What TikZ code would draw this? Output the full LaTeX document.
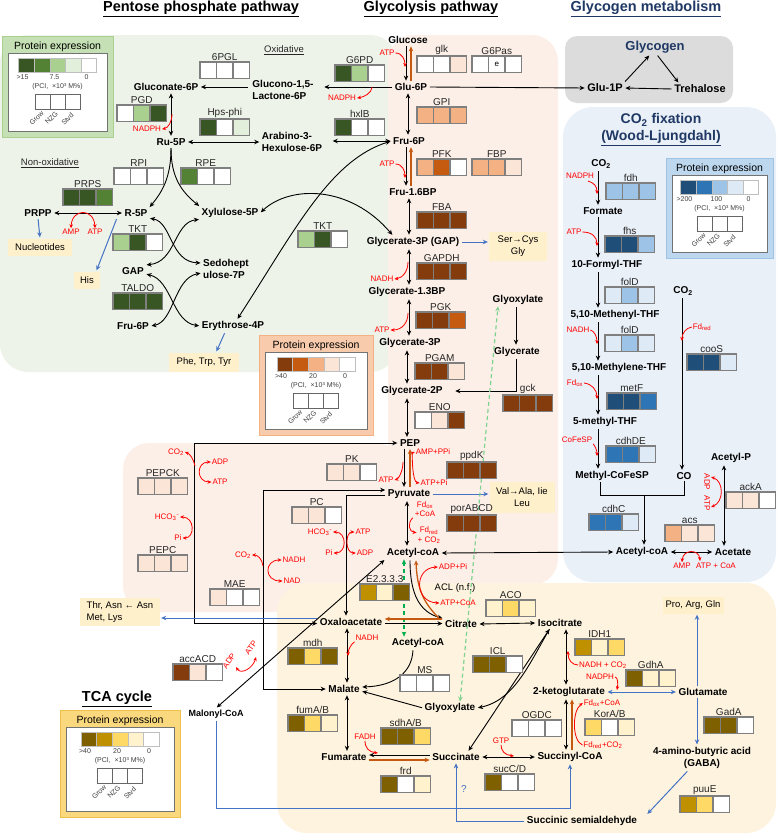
\documentclass[tikz,border=0pt]{standalone}
\usepackage{fontspec}
\setmainfont{Liberation Sans}
\usetikzlibrary{arrows.meta,calc}
\definecolor{g1}{HTML}{375623}\definecolor{g2}{HTML}{548235}\definecolor{g3}{HTML}{A9D08E}\definecolor{g4}{HTML}{E2EFDA}
\definecolor{b1}{HTML}{843C0C}\definecolor{b2}{HTML}{C55A11}\definecolor{b3}{HTML}{F4B183}\definecolor{b4}{HTML}{FBE5D6}
\definecolor{y1}{HTML}{7F6000}\definecolor{y2}{HTML}{BF9000}\definecolor{y3}{HTML}{FFD966}\definecolor{y4}{HTML}{FFF2CC}
\definecolor{u1}{HTML}{1F4E79}\definecolor{u2}{HTML}{2E75B6}\definecolor{u3}{HTML}{9DC3E6}\definecolor{u4}{HTML}{DEEBF7}
\definecolor{bggreen}{HTML}{EEF3E9}\definecolor{bgpeach}{HTML}{FCEFE8}\definecolor{bggray}{HTML}{DCDCDC}
\definecolor{bgblue}{HTML}{EAF0F8}\definecolor{bgyellow}{HTML}{FDF3DE}\definecolor{aabox}{HTML}{FFF0CC}
\definecolor{navy}{HTML}{1F3864}\definecolor{orgarr}{HTML}{C65911}\definecolor{bluarr}{HTML}{4472C4}
\definecolor{cellgray}{HTML}{7F7F7F}\definecolor{gdk}{HTML}{00B050}\definecolor{glt}{HTML}{7FD28F}
\definecolor{lgGfill}{HTML}{C5E0B4}\definecolor{lgGbord}{HTML}{A9D08E}
\definecolor{lgBfill}{HTML}{F8CBAD}\definecolor{lgBbord}{HTML}{F4B183}
\definecolor{lgUfill}{HTML}{BDD7EE}\definecolor{lgUbord}{HTML}{9DC3E6}
\definecolor{lgYfill}{HTML}{FAD97E}\definecolor{lgYbord}{HTML}{EFC050}

\newcommand\enz[7]{%
  \node[cell,fill=#5,anchor=north west] (#1-1) at (#2,#3) {};
  \node[cell,fill=#6,anchor=west] (#1-2) at (#1-1.east) {};
  \node[cell,fill=#7,anchor=west] (#1-3) at (#1-2.east) {};
  \node[enzl,anchor=south] (#1-l) at ([yshift=0.5pt]#1-2.north) {#4};}

\newcommand\pelegend[8]{%
\begin{scope}[shift={(#2,#3)}]
\pgfmathsetmacro\lgcx{#4/2}\pgfmathsetmacro\lgiw{#4-12}\pgfmathsetmacro\lgih{#5-23}
\node[draw=#8,fill=#7,line width=1.3pt,minimum width=#4pt,minimum height=#5pt,anchor=north west,inner sep=0pt] (#1-o) at (0,0) {};
\node[font=\fontsize{10.5}{12}\selectfont,inner sep=0pt] (#1-t) at (\lgcx,10.5) {Protein expression};
\node[draw=black!55,fill=white,line width=0.9pt,minimum width=\lgiw pt,minimum height=\lgih pt,anchor=north west,inner sep=0pt] (#1-i) at (6,17) {};
\foreach \i/\c in {1/#61,2/#62,3/#63,4/#64,5/white}{
  \node[draw=black!25,fill=\c,line width=0.4pt,minimum width=15.6pt,minimum height=14pt,inner sep=0pt] (#1-b\i) at (\lgcx-39+15.6*\i-7.8,29) {};}
\node[lgs] (#1-hi) at (\lgcx-35,41.5) {\lghi};
\node[lgs] (#1-mid) at (\lgcx-3,41.5) {\lgmid};
\node[lgs] (#1-z) at (\lgcx+29,41.5) {0};
\node[lgs] (#1-u) at (\lgcx,51) {(PCI,\ \ ×10³ M\%)};
\foreach \i in {1,2,3}{
  \node[draw=black!60,line width=0.9pt,fill=white,minimum width=15pt,minimum height=15pt,inner sep=0pt] (#1-c\i) at (\lgcx-30+15*\i,65.5) {};}
\node[lgs,rotate=45] (#1-r1) at (\lgcx-21,82) {Grow};
\node[lgs,rotate=45] (#1-r2) at (\lgcx-6,82) {NZG};
\node[lgs,rotate=45] (#1-r3) at (\lgcx+10,83) {Stvd};
\end{scope}}

\begin{document}
\begin{tikzpicture}[x=1pt,y=-1pt,
  met/.style={font=\bfseries\fontsize{10}{12.5}\selectfont,inner sep=1.5pt,align=center},
  metl/.style={met,align=left},
  enzl/.style={font=\fontsize{10}{12}\selectfont,text=black!85,inner sep=1pt},
  cof/.style={font=\fontsize{8}{9.5}\selectfont,text=red,inner sep=0.8pt,align=center},
  aa/.style={fill=aabox,font=\fontsize{9.5}{11.5}\selectfont,inner sep=0pt,align=center},
  cell/.style={draw=cellgray,line width=1.1pt,minimum width=16.5pt,minimum height=16.5pt,inner sep=0pt,outer sep=0pt},
  lgs/.style={font=\fontsize{7}{8}\selectfont,text=black!75,inner sep=0pt},
  ttl/.style={font=\bfseries\fontsize{14.5}{17}\selectfont,inner sep=1pt},
  ttlb/.style={font=\bfseries\fontsize{14}{16}\selectfont,text=navy,inner sep=1pt},
  plain/.style={draw=black,line width=0.9pt},
  blk/.style={plain,shorten >=1pt,shorten <=1pt,-{Stealth[length=5pt,width=4.5pt]}},
  blk2/.style={plain,shorten >=1pt,shorten <=1pt,{Stealth[length=5pt,width=4.5pt]}-{Stealth[length=5pt,width=4.5pt]}},
  org/.style={draw=orgarr,line width=1.3pt,shorten >=1pt,shorten <=1pt,-{Stealth[length=5pt,width=4.5pt]}},
  blu/.style={draw=bluarr,line width=1pt,shorten >=1pt,shorten <=1pt,-{Stealth[length=5pt,width=4.5pt]}},
  blu2/.style={draw=bluarr,line width=1pt,shorten >=1pt,shorten <=1pt,{Stealth[length=5pt,width=4.5pt]}-{Stealth[length=5pt,width=4.5pt]}},
  red1/.style={draw=red,line width=0.8pt,-{Stealth[length=4pt,width=3.5pt]}},
  red2/.style={draw=red,line width=0.8pt,{Stealth[length=4pt,width=3.5pt]}-{Stealth[length=4pt,width=3.5pt]}},
  gdsh/.style={draw=gdk,line width=1.2pt,dash pattern=on 4pt off 3pt,{Stealth[length=5pt,width=4.5pt]}-{Stealth[length=5pt,width=4.5pt]}},
  lgdsh/.style={draw=glt,line width=1.2pt,dash pattern=on 4pt off 3pt,{Stealth[length=5pt,width=4.5pt]}-{Stealth[length=5pt,width=4.5pt]}}]
\useasboundingbox (0,0) rectangle (778,835);

% ---------- backgrounds
\fill[bggreen,rounded corners=28pt] (0,35) rectangle (398,372);
\fill[bgpeach,rounded corners=26pt] (388,35) rectangle (558,585);
\fill[bgpeach,rounded corners=26pt] (123,443) rectangle (402,612);
\fill[bgyellow,rounded corners=30pt] (277,583) rectangle (776,833);
\fill[bggray,rounded corners=12pt] (565,36) rectangle (733,103);
\fill[bgblue,rounded corners=30pt] (563,107) rectangle (776,582);

% ---------- titles
\node[ttl] (tPPP) at (201,9) {\underline{Pentose phosphate pathway}};
\node[ttl] (tGly) at (431,9) {\underline{Glycolysis pathway}};
\node[ttl,text=navy] (tGlg) at (646,9) {\underline{Glycogen metabolism}};
\node[ttlb] (tCO2) at (661,120) {CO\textsubscript{2} fixation};
\node[ttlb] (tWL) at (661,138) {\underline{(Wood-Ljungdahl)}};
\node[ttl] (tTCA) at (117,699) {\underline{TCA cycle}};
\node[font=\fontsize{9.5}{11}\selectfont,text=black!85] (tOx) at (284,50) {\underline{Oxidative}};
\node[font=\fontsize{9.5}{11}\selectfont,text=black!85] (tNox) at (50,163) {\underline{Non-oxidative}};

% ---------- legends
\def\lghi{>15}\def\lgmid{7.5}\pelegend{lgG}{2}{36}{111}{101}{g}{lgGfill}{lgGbord}
\def\lghi{>40}\def\lgmid{20}\pelegend{lgB}{259}{335}{114}{100}{b}{lgBfill}{lgBbord}
\def\lghi{>200}\def\lgmid{100}\pelegend{lgU}{666}{158}{107}{100}{u}{lgUfill}{lgUbord}
\def\lghi{>40}\def\lgmid{20}\pelegend{lgY}{60}{710}{120}{107}{y}{lgYfill}{lgYbord}

% ---------- metabolites: PPP
\node[met] (Gluc6P) at (166,87) {Gluconate-6P};
\node[metl] (GlcLac) at (283,90) {Glucono-1,5-\\Lactone-6P};
\node[met] (Ru5P) at (171,142) {Ru-5P};
\node[metl] (Arab) at (292,142) {Arabino-3-\\Hexulose-6P};
\node[met] (R5P) at (136,213) {R-5P};
\node[met] (PRPP) at (38,213) {PRPP};
\node[met] (Xyl5P) at (230,213) {Xylulose-5P};
\node[met] (GAPp) at (133,271) {GAP};
\node[metl] (Sedo) at (226,269) {Sedohept\\ulose-7P};
\node[met] (F6Pp) at (133,326) {Fru-6P};
\node[met] (E4P) at (233,326) {Erythrose-4P};
% glycolysis
\node[met] (Glucose) at (408,40) {Glucose};
\node[met] (Glu6P) at (411,87) {Glu-6P};
\node[met] (Fru6P) at (409,141) {Fru-6P};
\node[met] (F16BP) at (413,192) {Fru-1.6BP};
\node[met] (GAP) at (413,242) {Glycerate-3P (GAP)};
\node[met] (G13BP) at (407,292) {Glycerate-1.3BP};
\node[met] (G3P) at (410,343) {Glycerate-3P};
\node[met] (G2P) at (412,391) {Glycerate-2P};
\node[met] (GlyoxU) at (518,300) {Glyoxylate};
\node[met] (Glycerate) at (517,352) {Glycerate};
\node[met] (PEP) at (410,443) {PEP};
\node[met] (Pyr) at (409,494) {Pyruvate};
\node[met] (AcCoA) at (413,553) {Acetyl-coA};
% TCA
\node[met] (OAA) at (351,622) {Oxaloacetate};
\node[met] (Cit) at (461,624) {Citrate};
\node[met] (Icit) at (560,623) {Isocitrate};
\node[met] (AcCoAT) at (418,643) {Acetyl-coA};
\node[met] (Mal) at (344,689) {Malate};
\node[met] (GlyoxT) at (450,708) {Glyoxylate};
\node[met] (Fum) at (344,757) {Fumarate};
\node[met] (Succ) at (456,757) {Succinate};
\node[met] (SucCoA) at (570,757) {Succinyl-CoA};
\node[met] (AKG) at (569,692) {2-ketoglutarate};
\node[met] (Glu) at (703,692) {Glutamate};
\node[met] (GABA) at (702,758) {4-amino-butyric acid\\(GABA)};
\node[met] (SSA) at (582,821) {Succinic semialdehyde};
\node[met,font=\bfseries\fontsize{9}{11}\selectfont] (Malonyl) at (216,714) {Malonyl-CoA};
% glycogen
\node[met,font=\bfseries\fontsize{13}{15}\selectfont,text=navy] (Glycogen) at (655,47) {Glycogen};
\node[met,font=\bfseries\fontsize{11}{13}\selectfont] (Glu1P) at (605,88) {Glu-1P};
\node[met,font=\bfseries\fontsize{11}{13}\selectfont] (Treh) at (700,89) {Trehalose};
% CO2 fixation
\node[met] (CO2a) at (601,164) {CO\textsubscript{2}};
\node[met] (Formate) at (603,211) {Formate};
\node[met] (FTHF) at (607,265) {10-Formyl-THF};
\node[met] (Methenyl) at (615,315) {5,10-Methenyl-THF};
\node[met] (Methylene) at (619,368) {5,10-Methylene-THF};
\node[met] (MTHF) at (605,422) {5-methyl-THF};
\node[met] (MeCo) at (612,476) {Methyl-CoFeSP};
\node[met] (CO) at (684,476) {CO};
\node[met] (CO2b) at (683,291) {CO\textsubscript{2}};
\node[met] (AcP) at (731,458) {Acetyl-P};
\node[met] (AcCoAR) at (642,552) {Acetyl-coA};
\node[met] (Acetate) at (733,552) {Acetate};

% ---------- amino-acid boxes
\node[aa,minimum width=64pt,minimum height=17pt] (Nucl) at (40,247) {Nucleotides};
\node[aa,minimum width=26pt,minimum height=17pt] (His) at (87,280) {His};
\node[aa,minimum width=70pt,minimum height=19pt] (Phe) at (204,362) {Phe, Trp, Tyr};
\node[aa,minimum width=58pt,minimum height=29pt] (Ser) at (518,246) {Ser→Cys\\Gly};
\node[aa,minimum width=65pt,minimum height=31pt] (Val) at (522,497) {Val→Ala, Iie\\Leu};
\node[aa,minimum width=80pt,minimum height=28pt,align=left] (Thr) at (120,612) {Thr, Asn ← Asn\\Met, Lys};
\node[aa,minimum width=61pt,minimum height=17pt] (Pro) at (693,605) {Pro, Arg, Gln};

% ---------- column coordinates
\coordinate (cA) at (406,0); \coordinate (cB) at (411,0); \coordinate (cC) at (408,0);
\coordinate (cD) at (409,0); \coordinate (cE) at (407,0); \coordinate (cF) at (404,0);
\coordinate (cG) at (410,0); \coordinate (xgl) at (516,0); \coordinate (xw) at (598,0);
\coordinate (xco) at (682,0); \coordinate (xac) at (724,0); \coordinate (xm) at (347,0);
\coordinate (xk) at (566,0); \coordinate (xko) at (572,0); \coordinate (xglu) at (697,0);
\coordinate (xgd) at (404,0);

% ---------- PPP connectors
\draw[blk] ([xshift=-2pt]GlcLac.west |- Gluc6P.east) -- (Gluc6P.east);
\draw[blk] (Glu6P.west) -- ([xshift=8pt]GlcLac.east |- Glu6P.west);
\draw[blk2] (Ru5P.north |- Gluc6P.south) -- (Ru5P.north);
\draw[blk2] (Ru5P.east) -- (Arab.west |- Ru5P.east);
\draw[blk2] ([xshift=8pt]Arab.east |- Fru6P.west) -- (Fru6P.west);
\draw[blk] (Ru5P.south) .. controls (171,178) and (162,192) .. (R5P.north east);
\draw[blk] (Ru5P.south) .. controls (171,178) and (182,192) .. (Xyl5P.north west);
\draw[blk2] (PRPP.east) -- (R5P.west);
\draw[blk2] (R5P.south east) .. controls (172,222) and (170,262) .. ([yshift=6pt]Sedo.west);
\draw[blk2] (Xyl5P.south west) .. controls (174,222) and (176,262) .. ([yshift=6pt]GAPp.east);
\draw[blk2] ([yshift=-3pt]GAPp.east) .. controls (172,280) and (172,322) .. (E4P.west);
\draw[blk2] ([yshift=-4pt]Sedo.west) .. controls (174,278) and (174,322) .. (F6Pp.east);
\draw[blk2] ([xshift=4pt]E4P.north) .. controls (295,230) and (330,160) .. (Fru6P.west);
\draw[blk2] (Xyl5P.east) .. controls (290,185) and (350,185) .. ([xshift=-20pt]GAP.north);
\draw[blu] (PRPP.south) -- (Nucl.north);
\draw[blu] ([xshift=-6pt]R5P.south west) -- ([xshift=-4pt]His.north east);
\draw[blu] ([xshift=-8pt]E4P.south) -- ([xshift=12pt]Phe.north);

% ---------- glycolysis connectors
\draw[blk] (Glucose.south -| cA) -- (Glu6P.north -| cA);
\draw[org] (Glu6P.north -| cB) -- (Glucose.south -| cB);
\draw[blk2] (Glu6P.south -| cC) -- (Fru6P.north -| cC);
\draw[blk] (Fru6P.south -| cA) -- (F16BP.north -| cA);
\draw[org] (F16BP.north -| cB) -- (Fru6P.south -| cB);
\draw[blk2] (F16BP.south -| cD) -- (GAP.north -| cD);
\draw[blk2] (GAP.south -| cD) -- (G13BP.north -| cD);
\draw[blk2] (G13BP.south -| cD) -- (G3P.north -| cD);
\draw[blk2] (G3P.south -| cE) -- (G2P.north -| cE);
\draw[blk2] (G2P.south -| cE) -- (PEP.north -| cE);
\draw[blk] (PEP.south -| cF) -- (Pyr.north -| cF);
\draw[org] (Pyr.north -| cG) -- (PEP.south -| cG);
\draw[blk2] (Pyr.south -| cE) -- (AcCoA.north -| cE);
\draw[blk] (Glu6P.east) -- (Glu1P.west);
\draw[blk] (Glu1P.north east) -- ([xshift=-5pt]Glycogen.south);
\draw[blk] ([xshift=2pt]Glycogen.south) -- ([xshift=-21pt]Treh.north);
\draw[blk] (Treh.west) -- (Glu1P.east);
\draw[blk] (GlyoxU.south -| xgl) -- (Glycerate.north -| xgl);
\draw[blk] (Glycerate.south -| xgl) |- ([xshift=10pt]G2P.east);
\draw[blu] (GAP.east) -- (Ser.west |- GAP.east);
\draw[blu] (Pyr.east) -- (Val.west |- Pyr.east);
\coordinate (cPEPk) at (194,443);
\draw[blk2] ([yshift=-1.5pt]OAA.west) -| (cPEPk) -- (PEP.west);
\coordinate (cMAE) at (263,490);
\draw[blk2] (Mal.west) -| (cMAE) -- ([yshift=4pt]Pyr.west);
\draw[blk] ([yshift=-1pt]Pyr.west) -| ([xshift=-5pt]OAA.north);
\draw[blk2] (Malonyl.north) -- (AcCoA.south west);
\draw[blu] ([yshift=4pt]OAA.west) -- ([yshift=4pt]OAA.west -| Thr.east);
\draw[blk2] (AcCoA.east) -- (AcCoAR.west);
\draw[blk] ([xshift=-3pt]AcCoA.south) .. controls (410,595) and (420,612) .. (Cit.north west);
\draw[org] ([xshift=-4pt]Cit.north west) .. controls (426,605) and (417,592) .. ([xshift=3pt]AcCoA.south);
\draw[gdsh] (AcCoA.south -| xgd) -- (AcCoAT.north -| xgd);
\draw[lgdsh] ([xshift=10pt]GlyoxT.north) -- ([xshift=-20pt]GlyoxU.south);

% ---------- CO2 fixation connectors
\draw[blk] (CO2a.south -| xw) -- (Formate.north -| xw);
\draw[blk] (Formate.south -| xw) -- (FTHF.north -| xw);
\draw[blk] (FTHF.south -| xw) -- (Methenyl.north -| xw);
\draw[blk] (Methenyl.south -| xw) -- (Methylene.north -| xw);
\draw[blk] (Methylene.south -| xw) -- (MTHF.north -| xw);
\draw[blk] (MTHF.south -| xw) -- (MeCo.north -| xw);
\draw[blk] (CO2b.south -| xco) -- (CO.north -| xco);
\coordinate (j1) at (600,495); \coordinate (j2) at (684,495); \coordinate (j3) at (644,495);
\draw[plain] (MeCo.south -| j1) -- (j1) -- (j2) -- (CO.south -| j2);
\draw[blk] (j3) -- (AcCoAR.north -| j3);
\draw[blk2] (AcCoAR.east) -- (Acetate.west);
\draw[blk2] (AcP.south -| xac) -- (Acetate.north -| xac);

% ---------- TCA connectors
\draw[blk] ([yshift=-1.5pt]OAA.east) -- ([yshift=-1.5pt]OAA.east -| Cit.west);
\draw[org] ([yshift=5pt]Cit.west) -- ([yshift=5pt]Cit.west -| OAA.east);
\draw[blk2] (OAA.south -| xm) -- (Mal.north -| xm);
\draw[blk2] (Mal.south -| xm) -- (Fum.north -| xm);
\draw[blk] ([yshift=2pt]Succ.west) -- ([yshift=2pt]Succ.west -| Fum.east);
\draw[org] ([yshift=-3pt]Fum.east) -- ([yshift=-3pt]Fum.east -| Succ.west);
\draw[blk2] (SucCoA.west) -- (Succ.east);
\draw[blk2] (Icit.south -| xk) -- (AKG.north -| xk);
\draw[blk2] (AKG.south -| xk) -- (SucCoA.north -| xk);
\draw[org] (SucCoA.north -| xko) -- (AKG.south -| xko);
\draw[blk2] (Cit.east) -- (Icit.west);
\draw[blk] ([xshift=-10pt]Icit.south) .. controls (530,662) and (515,700) .. (GlyoxT.east);
\draw[blk2] ([xshift=12pt]Succ.north) -- ([xshift=-10pt]Icit.south);
\draw[blk] (GlyoxT.west) -- ([yshift=-2pt]Mal.east);
\draw[blk] ([xshift=-5pt]AcCoAT.south) .. controls (412,672) and (395,686) .. ([yshift=2pt]Mal.east);
\draw[blu2] (AKG.east) -- (Glu.west);
\draw[blu] (Glu.north -| xglu) -- (Pro.south -| xglu);
\draw[blu] (Glu.south -| xglu) -- (GABA.north -| xglu);
\draw[blu] ([xshift=-14pt]GABA.south) -- ([xshift=8pt]SSA.north east);
\draw[blu] (SSA.west) -| (Succ.south);
\node[font=\fontsize{10}{12}\selectfont,text=bluarr] (qm) at (464,789) {?};
\coordinate (cSA) at (400,808);
\draw[blu] (Malonyl.south) |- (cSA) -| (SucCoA.south);

% ---------- cofactors
\node[cof] (nadph1) at (147,129) {NADPH};
\draw[red1] (172,114) .. controls (172,122) and (168,128) .. (nadph1.east);
\node[cof] (nadph2) at (342,98) {NADPH};
\draw[red1] (372,87) .. controls (372,93) and (364,97) .. (nadph2.east);
\node[cof] (amp1) at (71,232) {AMP};
\node[cof] (atp1) at (95,232) {ATP};
\draw[red2] (amp1.north) .. controls (72,208) and (94,208) .. (atp1.north);
\node[cof] (atpglk) at (387,53) {ATP};
\draw[red1] (atpglk.east) .. controls +(7,0) and +(0,-7) .. (405,67);
\node[cof] (atppfk) at (387,164) {ATP};
\draw[red1] (atppfk.east) .. controls +(7,0) and +(0,-7) .. (405,178);
\node[cof] (nadhg) at (382,279) {NADH};
\draw[red1] (408,262) .. controls (408,272) and (402,278) .. (nadhg.east);
\node[cof] (atppgk) at (382,330) {ATP};
\draw[red1] (408,313) .. controls (408,323) and (402,330) .. (atppgk.east);
\node[cof] (atppk) at (386,480) {ATP};
\draw[red1] (403,462) .. controls (403,472) and (398,479) .. (atppk.east);
\node[cof] (ampppi) at (433,452) {AMP+PPi};
\node[cof] (atppi) at (434,483) {ATP+Pi};
\draw[red2] (atppi.west) .. controls (412,482) and (412,453) .. (ampppi.west);
\node[cof] (fdox1) at (425,509) {Fd\textsubscript{ox}\\+CoA};
\node[cof] (fdred1) at (429,535.5) {Fd\textsubscript{red}\\+ CO\textsubscript{2}};
\draw[red1] ([xshift=-1pt]fdox1.south west) .. controls (407,523) and (409,532) .. ([yshift=3pt]fdred1.west);
\node[cof] (hcopc) at (320,532) {HCO\textsubscript{3}\textsuperscript{-}};
\node[cof] (pipc) at (329,553) {Pi};
\node[cof] (atppc) at (363,532) {ATP};
\node[cof] (adppc) at (365,553) {ADP};
\draw[red2] (hcopc.east) .. controls (347,532) and (347,553) .. (pipc.east);
\draw[red2] (atppc.west) .. controls (345,532) and (345,553) .. (adppc.west);
\node[cof] (co2pk) at (176,452) {CO\textsubscript{2}};
\node[cof] (adppk) at (220,462) {ADP};
\node[cof] (atppk2) at (220,482) {ATP};
\draw[red1] (195,466) .. controls (193,458) and (190,454) .. (co2pk.east);
\draw[red2] (adppk.west) .. controls (196,462) and (196,482) .. (atppk2.west);
\node[cof] (hcopepc) at (167,517) {HCO\textsubscript{3}\textsuperscript{-}};
\node[cof] (pipepc) at (178,538) {Pi};
\draw[red2] (hcopepc.east) .. controls (195,517) and (195,538) .. (pipepc.east);
\node[cof] (co2mae) at (243,555) {CO\textsubscript{2}};
\node[cof] (nadhmae) at (294,560) {NADH};
\node[cof] (nadmae) at (292,581) {NAD};
\draw[red1] (263,566) .. controls (262,559) and (258,555) .. (co2mae.east);
\draw[red2] (nadhmae.west) .. controls (264,560) and (264,581) .. (nadmae.west);
\node[cof] (adpacl) at (453,567) {ADP+Pi};
\node[cof] (atpacl) at (458,603) {ATP+CoA};
\node[font=\fontsize{9.5}{11}\selectfont,inner sep=1pt] (acl) at (455,588) {ACL (n.f.)};
\draw[red2] (adpacl.west) .. controls (414,568) and (414,602) .. (atpacl.west);
\node[cof] (nadhmdh) at (367,638) {NADH};
\draw[red1] (nadhmdh.south west) .. controls (351,644) and (348,650) .. (348,656);
\node[cof] (fadh) at (365,737) {FADH};
\draw[red1] (fadh.south) .. controls (365,748) and (369,752) .. (378,753);
\node[cof] (gtp) at (501,741) {GTP};
\draw[red1] (gtp.south) .. controls (501,751) and (505,755) .. (514,756);
\node[cof] (nadhidh) at (603,665) {NADH + CO\textsubscript{2}};
\draw[red1] (nadhidh.west) .. controls (572,665) and (568,660) .. (568,651);
\node[cof] (nadphg) at (600,677) {NADPH};
\draw[red1] (nadphg.east) .. controls (618,677) and (618,684) .. (617,690);
\node[cof] (fdoxk) at (602,703) {Fd\textsubscript{ox}+CoA};
\node[cof] (fdredk) at (603,745) {Fd\textsubscript{red}+CO\textsubscript{2}};
\draw[red1] (fdredk.west) .. controls (572,741) and (572,711) .. (fdoxk.west);
\node[cof] (nadphf) at (580,176) {NADPH};
\draw[red1] (588,181) .. controls (594,183) and (597,186) .. (597,194);
\node[cof] (atpfhs) at (574,232) {ATP};
\draw[red1] (atpfhs.east) .. controls (592,232) and (597,237) .. (597,246);
\node[cof] (nadhfd) at (578,330) {NADH};
\draw[red1] (nadhfd.east) .. controls (594,331) and (597,336) .. (597,344);
\node[cof] (fdoxm) at (575,383) {Fd\textsubscript{ox}};
\draw[red1] (fdoxm.east) .. controls (592,384) and (597,390) .. (597,399);
\node[cof] (cofesp) at (577,440) {CoFeSP};
\draw[red1] (cofesp.south east) .. controls (595,446) and (597,450) .. (597,456);
\node[cof] (fdredc) at (702,327) {Fd\textsubscript{red}};
\draw[red1] (fdredc.west) .. controls (686,328) and (682,333) .. (682,341);
\node[cof,rotate=-90] (adpack) at (707,482) {ADP};
\node[cof,rotate=-90] (atpack) at (707,503) {ATP};
\draw[red2] (711,477) .. controls (724,481) and (724,502) .. (711,507);
\node[cof] (ampacs) at (682,566) {AMP};
\node[cof] (atpacs) at (716,566) {ATP + CoA};
\draw[red2] (ampacs.north) .. controls (683,549) and (699,549) .. (700,561);
\node[cof,rotate=55] (adpacc) at (229,661) {ADP};
\node[cof,rotate=55] (atpacc) at (251,648) {ATP};
\draw[red2] (236,667) .. controls (241,675) and (253,668) .. (256,657);

% ---------- enzyme boxes
\enz{PGL}{200}{62}{6PGL}{white}{white}{white}
\enz{PGD}{117}{105}{PGD}{white}{g3}{g1}
\enz{Hps}{200}{119}{Hps-phi}{g1}{white}{g4}
\enz{RPI}{114}{168}{RPI}{white}{white}{white}
\enz{RPE}{181}{168}{RPE}{g2}{white}{white}
\enz{PRPS}{63}{189}{PRPS}{g1}{g1}{g2}
\enz{G6PD}{335}{65}{G6PD}{g1}{g3}{white}
\enz{hxlB}{335}{119}{hxlB}{g1}{white}{white}
\enz{TKTa}{113}{234}{TKT}{g3}{g1}{white}
\enz{TALDO}{113}{293}{TALDO}{g1}{g1}{g1}
\enz{TKTb}{298}{231}{TKT}{g3}{g1}{white}
\enz{glk}{417}{56}{glk}{white}{white}{b4}
\enz{G6Pas}{472}{56}{G6Pas}{white}{white}{white}
\node[font=\fontsize{8}{9}\selectfont] (G6Pas-e) at (G6Pas-2) {e};
\enz{GPI}{417}{107}{GPI}{b3}{b3}{b3}
\enz{PFK}{417}{159}{PFK}{b3}{b2}{white}
\enz{FBP}{472}{159}{FBP}{b3}{b3}{b4}
\enz{FBA}{417}{212}{FBA}{b1}{b1}{b1}
\enz{GAPDH}{417}{263}{GAPDH}{b1}{b1}{b1}
\enz{PGK}{416}{312}{PGK}{b1}{b1}{b2}
\enz{PGAM}{415}{363}{PGAM}{b1}{b1}{b4}
\enz{ENO}{415}{412}{ENO}{white}{b4}{b1}
\enz{gck}{503}{395}{gck}{b1}{b1}{b1}
\enz{ppdK}{447}{462}{ppdK}{b1}{b1}{b1}
\enz{PK}{327}{464}{PK}{b4}{b4}{white}
\enz{por}{447}{515}{porABCD}{b1}{b1}{b1}
\enz{PC}{292}{507}{PC}{b4}{b4}{white}
\enz{PEPCK}{138}{478}{PEPCK}{b4}{b4}{b4}
\enz{PEPC}{138}{555}{PEPC}{b4}{b4}{b4}
\enz{MAE}{210}{589}{MAE}{b4}{white}{white}
\enz{acs}{665}{525}{acs}{b3}{b4}{b4}
\enz{ackA}{726}{492}{ackA}{b4}{b4}{white}
\enz{acc}{173}{664}{accACD}{b1}{b4}{white}
\enz{fdh}{606}{183}{fdh}{u3}{u3}{u3}
\enz{fhs}{605}{236}{fhs}{u1}{u1}{u3}
\enz{folDa}{605}{287}{folD}{u4}{u3}{u4}
\enz{folDb}{605}{335}{folD}{u4}{u3}{u4}
\enz{metF}{607}{393}{metF}{u1}{u1}{u2}
\enz{cooS}{687}{354}{cooS}{u1}{u1}{u4}
\enz{cdhDE}{606}{446}{cdhDE}{u2}{u2}{u4}
\enz{cdhC}{589}{514}{cdhC}{u2}{u2}{u4}
\enz{E2333}{360}{584}{E2.3.3.3}{y2}{y4}{y1}
\enz{ACO}{486}{600}{ACO}{y4}{y3}{y4}
\enz{mdh}{288}{648}{mdh}{y1}{y3}{y1}
\enz{MS}{400}{675}{MS}{white}{white}{white}
\enz{ICL}{473}{656}{ICL}{y1}{y1}{white}
\enz{fumAB}{288}{715}{fumA/B}{y1}{y3}{y4}
\enz{sdhAB}{381}{728}{sdhA/B}{y1}{y1}{y3}
\enz{frd}{381}{776}{frd}{y1}{white}{y4}
\enz{OGDC}{512}{720}{OGDC}{white}{white}{white}
\enz{sucCD}{485}{774}{sucC/D}{y1}{white}{white}
\enz{IDH}{575}{639}{IDH1}{y2}{y4}{y3}
\enz{GdhA}{626}{670}{GdhA}{y1}{y4}{y4}
\enz{KorAB}{585}{719}{KorA/B}{y3}{white}{y4}
\enz{GadA}{704}{717}{GadA}{y1}{y1}{white}
\enz{puuE}{680}{796}{puuE}{y2}{y3}{white}
\end{tikzpicture}
\end{document}
